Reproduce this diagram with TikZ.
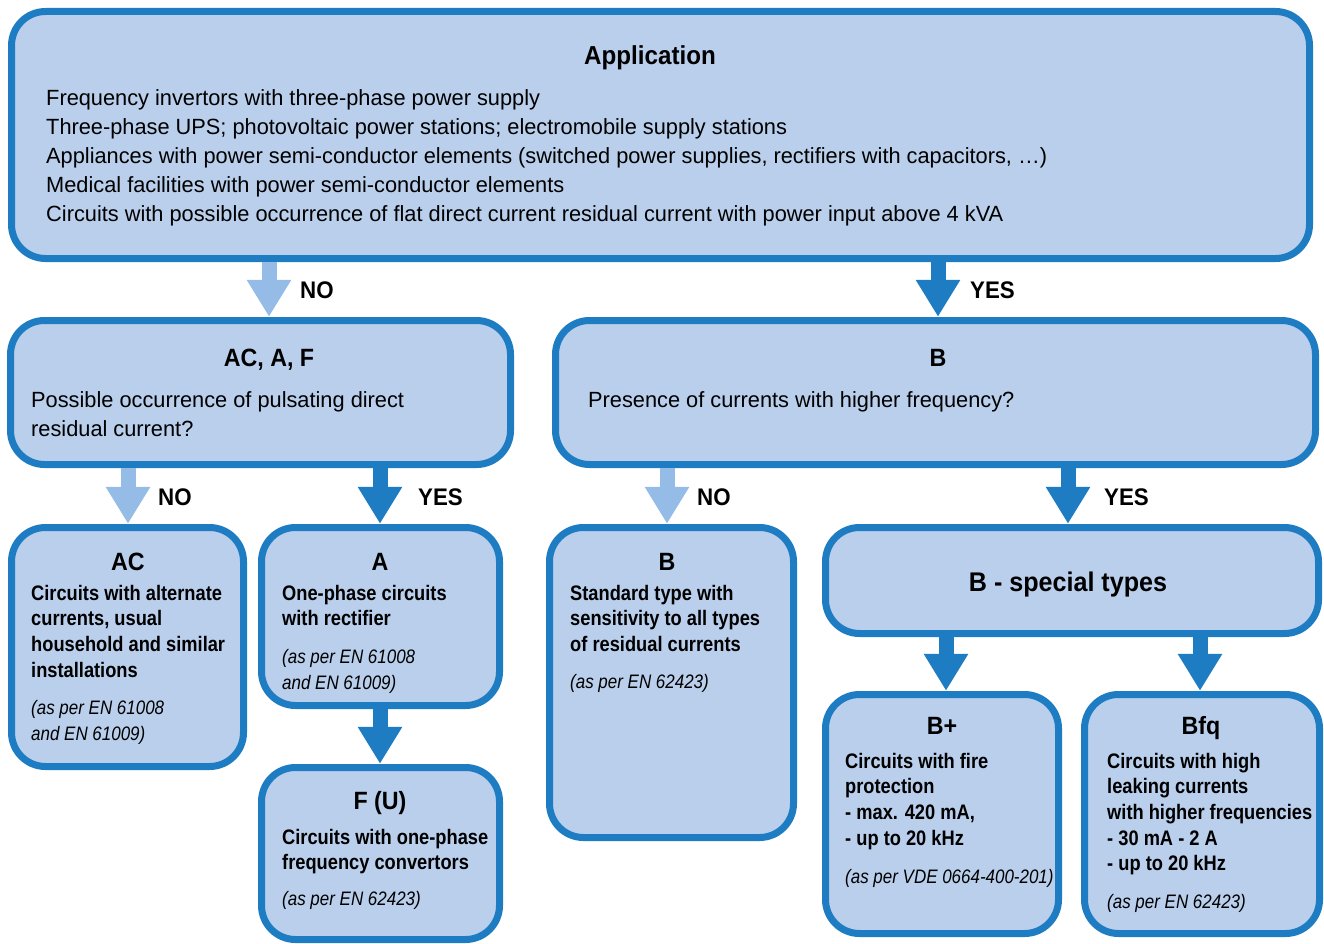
\documentclass[tikz,border=0pt]{standalone}
\usepackage{fontspec}
\setmainfont{Liberation Sans}[FakeStretch=0.99]
\newfontfamily\condfont{Liberation Sans}[FakeStretch=0.87]
\newfontfamily\titlefont{Liberation Sans}[FakeStretch=0.93]
\newfontfamily\italfont{Liberation Sans}[FakeStretch=0.87]
\usetikzlibrary{arrows.meta}
\definecolor{boxfill}{RGB}{185,207,236}
\definecolor{boxline}{RGB}{30,124,195}
\definecolor{lightarrow}{RGB}{148,188,230}
\tikzset{
  box/.style={draw=boxline, fill=boxfill, line width=7pt, rounded corners=34pt},
  bodytxt/.style={inner sep=0pt, font=\fontsize{22}{29}\selectfont},
  boldtxt/.style={inner sep=0pt, font=\condfont\bfseries\fontsize{21}{25.5}\selectfont},
  italtxt/.style={inner sep=0pt, font=\italfont\itshape\fontsize{19.5}{26}\selectfont},
  titletxt/.style={inner sep=0pt, anchor=base, font=\titlefont\bfseries\fontsize{25}{30}\selectfont},
  labeltxt/.style={inner sep=0pt, anchor=base west, font=\titlefont\bfseries\fontsize{24}{28}\selectfont},
  yesarrow/.style={draw=boxline, line width=15pt, -{Triangle[width=42pt,length=37pt]}},
  noarrow/.style={draw=lightarrow, line width=15pt, -{Triangle[width=42pt,length=37pt]}}
}
\newcommand\txtlines[6]{\foreach \ln [count=\k] in {#6} {\node[#1, anchor=base west] (#2-\k) at ({#3},{#4+(\k-1)*#5}) {\ln};}}
\begin{document}
\begin{tikzpicture}[x=1pt,y=-1pt]
\useasboundingbox (0,0) rectangle (1324,944);
% boxes (outer edges inset by half the line width)
\draw[box] (11.5,11.5) rectangle (1309.5,258.5);
\draw[box] (10.5,320.5) rectangle (510.5,464.5);
\draw[box] (555.5,320.5) rectangle (1315.5,464.5);
\draw[box] (11.5,527.5) rectangle (243.5,766.5);
\draw[box] (261.5,527.5) rectangle (499.5,705.5);
\draw[box] (261.5,767.5) rectangle (499.5,939.5);
\draw[box] (549.5,527.5) rectangle (793.5,837.5);
\draw[box] (825.5,527.5) rectangle (1318.5,633.5);
\draw[box] (825.5,694.5) rectangle (1058.5,933.5);
\draw[box] (1084.5,694.5) rectangle (1319.5,933.5);
% anchor nodes for connectors
\node[inner sep=0pt] (app) at (660.5,135) [minimum width=1305, minimum height=254] {};
\node[inner sep=0pt] (aaf) at (260.5,392.5) [minimum width=507, minimum height=151] {};
\node[inner sep=0pt] (bq) at (935.5,392.5) [minimum width=767, minimum height=151] {};
\node[inner sep=0pt] (ac) at (127.5,647) [minimum width=239, minimum height=246] {};
\node[inner sep=0pt] (a) at (380.5,616.5) [minimum width=245, minimum height=185] {};
\node[inner sep=0pt] (fu) at (380.5,853.5) [minimum width=245, minimum height=179] {};
\node[inner sep=0pt] (bstd) at (671.5,682.5) [minimum width=251, minimum height=317] {};
\node[inner sep=0pt] (bsp) at (1072,580.5) [minimum width=500, minimum height=113] {};
\node[inner sep=0pt] (bplus) at (942,814) [minimum width=240, minimum height=246] {};
\node[inner sep=0pt] (bfq) at (1202,814) [minimum width=242, minimum height=246] {};
% x positions of connectors
\coordinate (x1) at (269,0);
\coordinate (x2) at (938,0);
\coordinate (x3) at (128,0);
\coordinate (x4) at (380,0);
\coordinate (x5) at (667,0);
\coordinate (x6) at (1068,0);
\coordinate (x7) at (946,0);
\coordinate (x8) at (1200,0);
% connectors
\draw[noarrow] (app.south -| x1) -- (aaf.north -| x1);
\draw[yesarrow] (app.south -| x2) -- (bq.north -| x2);
\draw[noarrow] (aaf.south -| x3) -- (ac.north -| x3);
\draw[yesarrow] (aaf.south -| x4) -- (a.north -| x4);
\draw[yesarrow] (a.south -| x4) -- (fu.north -| x4);
\draw[noarrow] (bq.south -| x5) -- (bstd.north -| x5);
\draw[yesarrow] (bq.south -| x6) -- (bsp.north -| x6);
\draw[yesarrow] (bsp.south -| x7) -- (bplus.north -| x7);
\draw[yesarrow] (bsp.south -| x8) -- (bfq.north -| x8);
% labels
\node[labeltxt] (l1) at (300,298) {NO};
\node[labeltxt] (l2) at (970,298) {YES};
\node[labeltxt] (l3) at (158,505) {NO};
\node[labeltxt] (l4) at (418,505) {YES};
\node[labeltxt] (l5) at (697,505) {NO};
\node[labeltxt] (l6) at (1104,505) {YES};
% titles
\node[titletxt, font=\titlefont\bfseries\fontsize{26}{30}\selectfont] (tapp) at (650,65) {Application};
\node[titletxt] (taaf) at (269,366) {AC, A, F};
\node[titletxt] (tbq) at (938,366) {B};
\node[titletxt] (tac) at (128,570) {AC};
\node[titletxt] (ta) at (380,570) {A};
\node[titletxt] (tfu) at (380,809) {F (U)};
\node[titletxt] (tbstd) at (667,570) {B};
\node[titletxt, font=\titlefont\bfseries\fontsize{27}{30}\selectfont] (tbsp) at (1068,591) {B - special types};
\node[titletxt] (tbplus) at (942,734) {B+};
\node[titletxt] (tbfq) at (1201,734) {Bfq};
% body texts
\txtlines{bodytxt}{appt}{46}{106}{29}{Frequency invertors with three-phase power supply, {Three-phase UPS; photovoltaic power stations; electromobile supply stations}, {Appliances with power semi-conductor elements (switched power supplies, rectifiers with capacitors, \ldots)}, Medical facilities with power semi-conductor elements, Circuits with possible occurrence of flat direct current residual current with power input above 4 kVA}
\txtlines{bodytxt}{aaft}{31}{407}{29}{Possible occurrence of pulsating direct, residual current?}
\txtlines{bodytxt}{bqt}{588}{407}{29}{Presence of currents with higher frequency?}
\txtlines{boldtxt}{acb}{31}{600}{25.7}{Circuits with alternate, {currents, usual}, household and similar, installations}
\txtlines{italtxt}{aci}{31}{714}{26}{{(as per EN 61008}, {and EN 61009)}}
\txtlines{boldtxt}{ab}{282}{600}{25.7}{One-phase circuits, with rectifier}
\txtlines{italtxt}{ai}{282}{663}{26}{{(as per EN 61008}, {and EN 61009)}}
\txtlines{boldtxt}{fub}{282}{844}{25.7}{Circuits with one-phase, frequency convertors}
\txtlines{italtxt}{fui}{282}{905}{26}{{(as per EN 62423)}}
\txtlines{boldtxt}{bsb}{570}{600}{25.7}{Standard type with, sensitivity to all types, of residual currents}
\txtlines{italtxt}{bsi}{570}{688}{26}{{(as per EN 62423)}}
\txtlines{boldtxt}{bpb}{845}{768}{25.7}{Circuits with fire, protection, {- max. 420 mA,}, - up to 20 kHz}
\txtlines{italtxt}{bpi}{845}{883}{26}{{(as per VDE 0664-400-201)}}
\txtlines{boldtxt}{bfb}{1107}{768}{25.7}{Circuits with high, leaking currents, with higher frequencies, - 30 mA - 2 A, - up to 20 kHz}
\txtlines{italtxt}{bfi}{1107}{908}{26}{{(as per EN 62423)}}
\end{tikzpicture}
\end{document}
